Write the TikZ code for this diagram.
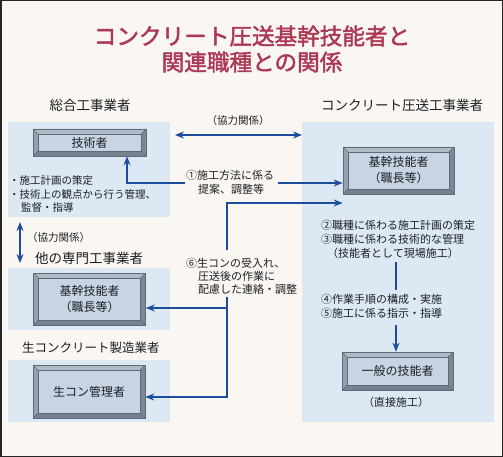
\documentclass[tikz,border=0pt]{standalone}
\usepackage{fontspec}
\setmainfont{Noto Sans CJK JP}
\newfontfamily\titlefont{Noto Sans CJK JP}[FakeBold=2]
\usetikzlibrary{arrows.meta}
\definecolor{bgc}{RGB}{250,246,241}
\definecolor{titlec}{RGB}{172,56,88}
\definecolor{panelc}{RGB}{220,233,245}
\definecolor{arrc}{RGB}{28,76,156}
\definecolor{bevlight}{RGB}{176,186,198}
\definecolor{bevmid}{RGB}{150,161,174}
\definecolor{bevdark}{RGB}{118,130,144}
\definecolor{innerc}{RGB}{198,212,228}
\definecolor{edgec}{RGB}{95,106,120}
\definecolor{txtc}{RGB}{30,30,35}
\tikzset{
  bevel/.style={draw=edgec, line width=0.6pt, fill=bevmid, inner sep=0pt, text=txtc,
    font=\fontsize{12}{16}\selectfont, align=center,
    path picture={
      \path (path picture bounding box.south west) coordinate (@a)
            (path picture bounding box.north east) coordinate (@b)
            (path picture bounding box.north west) coordinate (@c)
            (path picture bounding box.south east) coordinate (@d);
      \fill[bevlight] (@c) -- (@b) -- ([shift={(-5pt,-5pt)}]@b) -- ([shift={(5pt,-5pt)}]@c) -- cycle;
      \fill[bevmid] (@a) -- (@c) -- ([shift={(5pt,-5pt)}]@c) -- ([shift={(5pt,5pt)}]@a) -- cycle;
      \fill[bevdark] (@a) -- (@d) -- ([shift={(-5pt,5pt)}]@d) -- ([shift={(5pt,5pt)}]@a) -- cycle;
      \fill[bevdark!85!bevmid] (@d) -- (@b) -- ([shift={(-5pt,-5pt)}]@b) -- ([shift={(-5pt,5pt)}]@d) -- cycle;
      \draw[edgec, line width=0.4pt] (@a) -- ([shift={(5pt,5pt)}]@a) (@b) -- ([shift={(-5pt,-5pt)}]@b)
            (@c) -- ([shift={(5pt,-5pt)}]@c) (@d) -- ([shift={(-5pt,5pt)}]@d);
      \filldraw[fill=innerc, draw=edgec, line width=0.5pt] ([shift={(5pt,5pt)}]@a) rectangle ([shift={(-5pt,-5pt)}]@b);
    }},
  panel/.style={fill=panelc, draw=none},
  lbl/.style={inner sep=0pt, text=txtc, font=\fontsize{11}{13}\selectfont},
  hdr/.style={inner sep=0pt, text=txtc, font=\fontsize{13.5}{16}\selectfont},
  ttl/.style={inner sep=0pt, text=titlec, font=\titlefont\fontsize{22.6}{26}\selectfont},
  conn/.style={draw=arrc, line width=1.8pt},
  tip/.style={-{Stealth[length=9pt,width=7pt]}},
  dtip/.style={{Stealth[length=9pt,width=7pt]}-{Stealth[length=9pt,width=7pt]}}
}
\begin{document}
\begin{tikzpicture}[x=1pt,y=-1pt]
\useasboundingbox (0,0) rectangle (503,457);
\fill[bgc] (0,0) rectangle (503,457);
\draw[black!85, line width=1.5pt] (0.75,0.75) rectangle (502.25,456.25);

% title
\node[ttl] (t1) at (252,36) {コンクリート圧送基幹技能者と};
\node[ttl] (t2) at (252,62) {関連職種との関係};

% headers
\node[hdr] (hL) at (90,105) {総合工事業者};
\node[hdr] (hR) at (402,105) {コンクリート圧送工事業者};

% panels
\path[panel] (8,122) rectangle (170,217);
\path[panel] (8,268) rectangle (170,330);
\path[panel] (8,360) rectangle (170,422);
\path[panel] (302,122) rectangle (494,422);

% boxes
\node[bevel, minimum width=113pt, minimum height=27pt] (gijutsu) at (89.5,142.5) {技術者};
\node[bevel, minimum width=111pt, minimum height=47pt] (kikanR) at (398.5,170.5) {基幹技能者\\（職長等）};
\node[bevel, minimum width=112pt, minimum height=52pt] (kikanL) at (89.5,299) {基幹技能者\\（職長等）};
\node[bevel, minimum width=112pt, minimum height=53pt] (namakon) at (89,391.5) {生コン管理者};
\node[bevel, minimum width=111pt, minimum height=38pt] (ippan) at (397.5,371) {一般の技能者};

% bullets
\node[lbl, anchor=west, font=\fontsize{10.5}{12}\selectfont] (b1) at (9,181) {・施工計画の策定};
\node[lbl, anchor=west, font=\fontsize{10.5}{12}\selectfont] (b2) at (9,194) {・技術上の観点から行う管理、};
\node[lbl, anchor=west, font=\fontsize{10.5}{12}\selectfont] (b3) at (21,208) {監督・指導};

% top double arrow
\coordinate (kyL) at (175,135);
\coordinate (kyR) at (302,135);
\draw[conn, dtip] (kyL) -- (kyR);
\node[lbl, font=\fontsize{10.5}{12}\selectfont] (ky1) at (238,121) {（協力関係）};

% label 1
\node[lbl, anchor=west] (l1a) at (186,175) {①施工方法に係る};
\node[lbl, anchor=west] (l1b) at (198,189) {提案、調整等};
\coordinate (a1L) at (185,183);
\coordinate (a1R) at (278,183);
\draw[conn, tip] (a1L) -| (gijutsu.south -| 127,0);
\draw[conn, tip] (a1R) -- (a1R -| kikanR.west);

% label 6
\node[lbl, anchor=west] (l6a) at (186,263) {⑥生コンの受入れ、};
\node[lbl, anchor=west] (l6b) at (198,276) {圧送後の作業に};
\node[lbl, anchor=west] (l6c) at (198,289) {配慮した連絡・調整};
\coordinate (v6top) at (227,250);
\coordinate (v6bot) at (227,297);
\coordinate (br6) at (227,308);
\draw[conn, tip] (v6top) |- (kikanR.west |- 0,203);
\draw[conn, tip] (v6bot) |- (namakon.east |- 0,397);
\draw[conn, tip] (br6) -- (kikanL.east |- br6);

% right texts
\node[lbl, anchor=west] (r2) at (321,225) {②職種に係わる施工計画の策定};
\node[lbl, anchor=west] (r3) at (321,239) {③職種に係わる技術的な管理};
\node[lbl, anchor=west] (r3b) at (327,253) {（技能者として現場施工）};
\node[lbl, anchor=west] (r4) at (321,299) {④作業手順の構成・実施};
\node[lbl, anchor=west] (r5) at (321,313) {⑤施工に係る指示・指導};
\coordinate (vr1) at (396,262);
\coordinate (vr2) at (396,290);
\draw[conn] (vr1) -- (vr2);
\coordinate (vr3) at (396,325);
\draw[conn, tip] (vr3) -- (vr3 |- ippan.north);
\node[lbl] (choku) at (396,402) {（直接施工）};

% left cooperation
\coordinate (cL1) at (20,222);
\coordinate (cL2) at (20,263);
\draw[conn, dtip] (cL1) -- (cL2);
\node[lbl, anchor=west, font=\fontsize{10.5}{12}\selectfont] (ky2) at (27,238) {（協力関係）};
\node[hdr, anchor=west] (hO) at (35,258) {他の専門工事業者};
\node[hdr, anchor=west, font=\fontsize{12.5}{15}\selectfont] (hN) at (22,348) {生コンクリート製造業者};
\end{tikzpicture}
\end{document}
